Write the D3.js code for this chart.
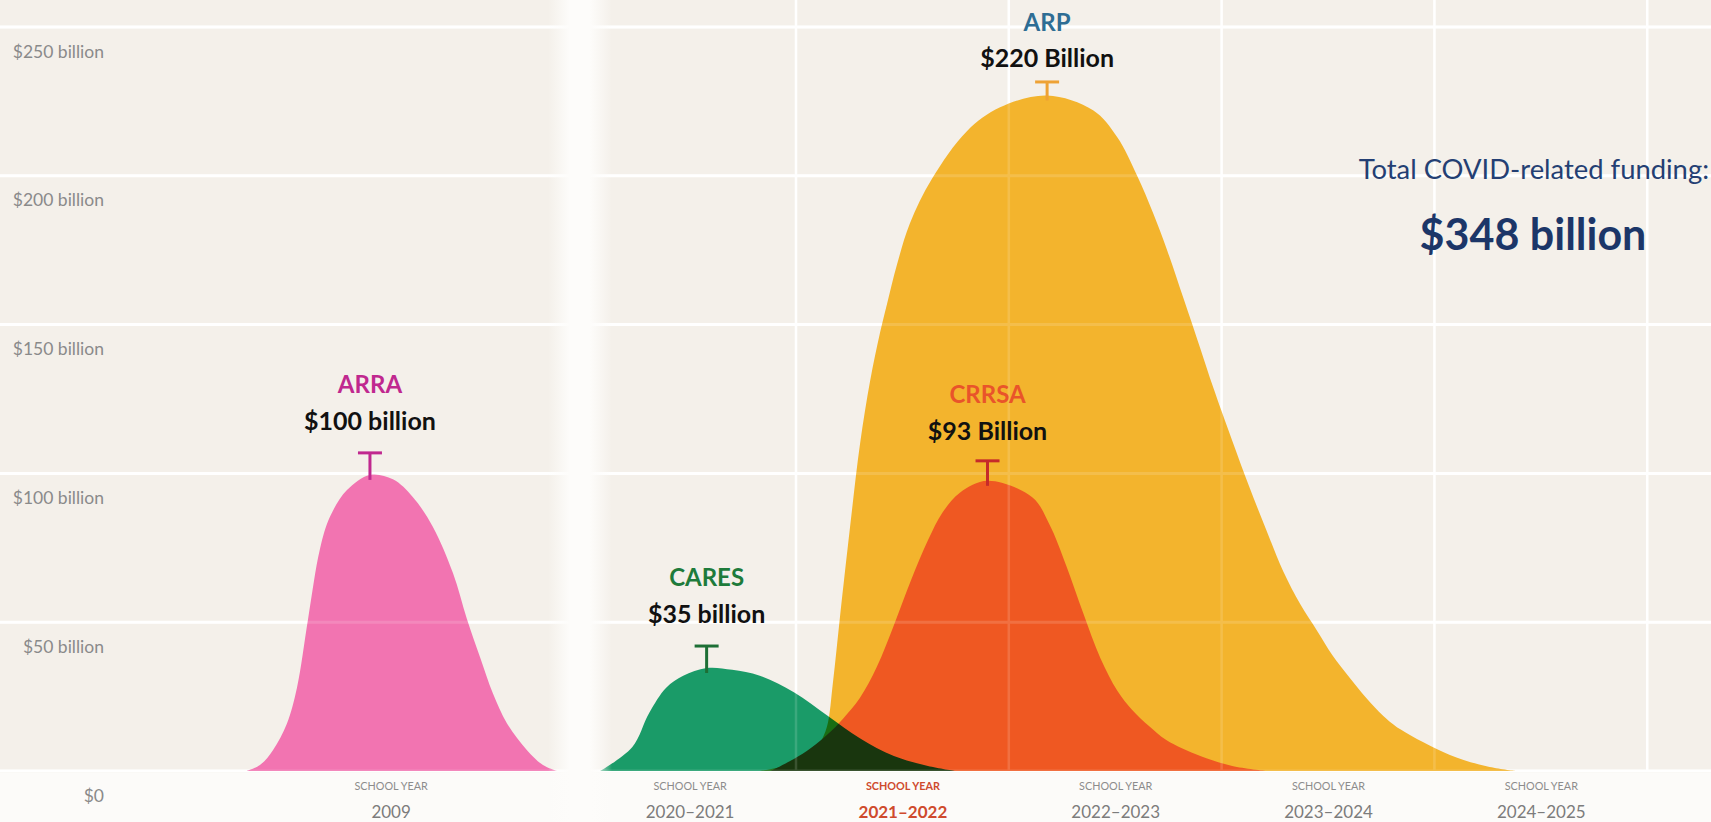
<!DOCTYPE html>
<html>
<head>
<meta charset="utf-8">
<script src="https://cdn.jsdelivr.net/npm/d3@7"></script>
<style>
  html, body { margin: 0; padding: 0; background: #fcfbf9; overflow: hidden; }
  svg { display: block; font-family: Lato, "Open Sans", sans-serif; }
</style>
</head>
<body>
<div id="chart"></div>
<script>
// Values. x = school year as a decimal year, y = billions of dollars
const yTicks = [0, 50, 100, 150, 200, 250];
const yTickLabels = ["$0", "$50 billion", "$100 billion", "$150 billion", "$200 billion", "$250 billion"];

const leftYears = [2009];
const leftYearLabels = ["2009"];
const rightYears = [2021, 2022, 2023, 2024, 2025];
const rightYearLabels = ["2020–2021", "2021–2022", "2022–2023", "2023–2024", "2024–2025"];
const highlightYear = 2022;
const gridYears = [2021.5, 2022.5, 2023.5, 2024.5, 2025.5];

const programs = ["ARRA", "ARP", "CRRSA", "CARES"];
const amountLabels = ["$100 billion", "$220 Billion", "$93 Billion", "$35 billion"];

const arraPoints = [[2008.325, 0], [2008.386, 2], [2008.447, 7], [2008.513, 16], [2008.560, 28], [2008.612, 51],
  [2008.668, 74.6], [2008.715, 85.4], [2008.795, 94.4], [2008.903, 99.5], [2009.011, 98], [2009.105, 92],
  [2009.199, 82], [2009.293, 66.5], [2009.359, 51], [2009.420, 38.3], [2009.481, 26], [2009.547, 16],
  [2009.641, 7], [2009.716, 2], [2009.781, 0]];

const caresPoints = [[2020.58, 0], [2020.73, 8], [2020.81, 19.5], [2020.89, 28], [2020.97, 32], [2021.08, 34.6],
  [2021.20, 34], [2021.33, 32], [2021.49, 26.5], [2021.65, 18.5], [2021.80, 11], [2021.96, 5], [2022.12, 1.7], [2022.25, 0]];

const crrsaPoints = [[2021.38, 0], [2021.49, 4], [2021.57, 7.7], [2021.65, 12.4], [2021.72, 17.5], [2021.80, 24.5],
  [2021.88, 35], [2021.96, 49], [2022.04, 64], [2022.12, 77.5], [2022.19, 87], [2022.27, 93.5], [2022.40, 97.5],
  [2022.61, 92], [2022.69, 83], [2022.77, 69], [2022.85, 53], [2022.93, 38], [2023.01, 27], [2023.08, 20.5],
  [2023.16, 15], [2023.24, 10.4], [2023.40, 5], [2023.55, 1.7], [2023.71, 0]];

const arpPoints = [[2021.33, 0], [2021.47, 2], [2021.57, 5], [2021.61, 9], [2021.646, 15], [2021.674, 30],
  [2021.707, 52], [2021.754, 82], [2021.801, 110], [2021.848, 131], [2021.894, 147], [2021.928, 157],
  [2021.974, 170], [2022.035, 184], [2022.139, 199], [2022.303, 215], [2022.459, 223], [2022.68, 227],
  [2022.896, 222], [2023.009, 213], [2023.103, 200], [2023.178, 187.5], [2023.244, 175], [2023.320, 159],
  [2023.400, 142], [2023.46, 129], [2023.55, 111], [2023.63, 95.5], [2023.71, 81], [2023.79, 67], [2023.87, 56],
  [2023.95, 47], [2024.02, 39], [2024.10, 31.5], [2024.18, 24.5], [2024.26, 18.5], [2024.34, 14], [2024.57, 5.5],
  [2024.75, 1.5], [2024.88, 0]];

const totalLabel = "Total COVID-related funding:";
const totalAmount = "$348 billion";

// styles
const fills = { ARRA: "#f274b1", ARP: "#f3b42d", CRRSA: "#ef5822", CARES: "#1a9b68" };
const nameColors = { ARRA: "#c0288f", ARP: "#2e6d94", CRRSA: "#e9542a", CARES: "#1e7b3b" };
const markColors = { ARRA: "#c0288f", ARP: "#eea235", CRRSA: "#c62a2a", CARES: "#1d6f35" };
const labelLift = { ARRA: 0, ARP: 17, CRRSA: 4, CARES: 0 };

const W = 1711, H = 822;
const baseY = 771;

const svg = d3.select("#chart").append("svg")
    .attr("width", W)
    .attr("height", H);

const y = d3.scaleLinear().domain([0, 250]).range([baseY, 27]);
const unit = 212.8; // px per school year
const xLeft = d3.scaleLinear().domain([2008, 2010]).range([390.6 - unit, 390.6 + unit]);
const xRight = d3.scaleLinear().domain([2021, 2025]).range([689.6, 689.6 + 4 * unit]);

const defs = svg.append("defs");
defs.append("clipPath").attr("id", "plot")
  .append("rect").attr("x", 0).attr("y", 0).attr("width", W).attr("height", baseY);

// background
svg.append("rect").attr("width", W).attr("height", H).attr("fill", "#fcfbf9");
svg.append("rect").attr("width", W).attr("height", baseY + 2).attr("fill", "#f4f0ea");

function drawGrid(g) {
    g.selectAll("line.h")
      .data(yTicks)
      .join("line")
        .attr("class", "h")
        .attr("x1", 0).attr("x2", W)
        .attr("y1", d => y(d)).attr("y2", d => y(d))
        .attr("stroke", "#ffffff").attr("stroke-width", 3);
    g.selectAll("line.v")
      .data(gridYears)
      .join("line")
        .attr("class", "v")
        .attr("x1", d => xRight(d)).attr("x2", d => xRight(d))
        .attr("y1", 0).attr("y2", baseY)
        .attr("stroke", "#ffffff").attr("stroke-width", 2.5);
}
drawGrid(svg.append("g"));

// areas
const series = {
    ARRA: { points: arraPoints, x: xLeft },
    ARP: { points: arpPoints, x: xRight },
    CRRSA: { points: crrsaPoints, x: xRight },
    CARES: { points: caresPoints, x: xRight }
};

const areas = svg.append("g").attr("clip-path", "url(#plot)");
programs.forEach(name => {
    const s = series[name];
    const area = d3.area()
        .x(d => s.x(d[0]))
        .y0(y(0))
        .y1(d => y(d[1]))
        .curve(d3.curveCatmullRom.alpha(0.5));
    const p = areas.append("path")
        .datum(s.points)
        .attr("d", area)
        .attr("fill", fills[name]);
    if (name === "CARES") p.style("mix-blend-mode", "multiply");
});

// faint grid showing through the shapes
drawGrid(svg.append("g").attr("opacity", 0.14));

// white divider between 2009 and the COVID years
const grad = defs.append("linearGradient").attr("id", "gap").attr("x1", 0).attr("x2", 1).attr("y1", 0).attr("y2", 0);
[[0, 0], [0.34, 1], [0.66, 1], [1, 0]].forEach(s => {
    grad.append("stop").attr("offset", s[0]).attr("stop-color", "#fdfcfa").attr("stop-opacity", s[1]);
});
svg.append("rect")
    .attr("x", 548).attr("y", 0)
    .attr("width", 64).attr("height", H)
    .attr("fill", "url(#gap)");

// y axis
const yAxis = svg.append("g")
    .attr("transform", "translate(104,0)")
    .call(d3.axisLeft(y).tickValues(yTicks).tickFormat((d, i) => yTickLabels[i]).tickSize(0).tickPadding(0));
yAxis.select(".domain").remove();
yAxis.selectAll("text")
    .attr("y", 24)
    .attr("dy", "0.35em")
    .attr("font-family", "Lato, sans-serif")
    .attr("font-size", 17.5)
    .attr("fill", "#8a8a8a");

// x axes
function drawXAxis(scale, ticks, labels) {
    const g = svg.append("g")
        .attr("transform", `translate(0,${baseY})`)
        .call(d3.axisBottom(scale).tickValues(ticks).tickFormat((d, i) => labels[i]).tickSize(0).tickPadding(0));
    g.select(".domain").remove();
    g.selectAll(".tick text")
        .attr("y", 41)
        .attr("dy", "0.35em")
        .attr("font-family", "Lato, sans-serif")
        .attr("font-size", 17)
        .attr("font-weight", d => d === highlightYear ? 700 : 400)
        .attr("fill", d => d === highlightYear ? "#cf4a2d" : "#7c7c7c");
    g.selectAll(".tick").append("text")
        .attr("y", 15)
        .attr("dy", "0.35em")
        .attr("text-anchor", "middle")
        .attr("font-family", "Lato, sans-serif")
        .attr("font-size", 10.8)
        .attr("font-weight", d => d === highlightYear ? 700 : 400)
        .attr("fill", d => d === highlightYear ? "#cf4a2d" : "#8c8c8c")
        .text("SCHOOL YEAR");
}
drawXAxis(xLeft, leftYears, leftYearLabels);
drawXAxis(xRight, rightYears, rightYearLabels);

// peak labels and T markers
programs.forEach((name, i) => {
    const s = series[name];
    const peak = s.points.reduce((a, b) => (b[1] > a[1] ? b : a));
    const px = s.x(peak[0]);
    const py = y(peak[1]);
    const lift = labelLift[name];
    const g = svg.append("g");
    g.append("line")
        .attr("x1", px - 12).attr("x2", px + 12)
        .attr("y1", py - 22 + lift / 2).attr("y2", py - 22 + lift / 2)
        .attr("stroke", markColors[name]).attr("stroke-width", 3);
    g.append("line")
        .attr("x1", px).attr("x2", px)
        .attr("y1", py - 22 + lift / 2).attr("y2", py + 5)
        .attr("stroke", markColors[name]).attr("stroke-width", 3);
    g.append("text")
        .attr("x", px).attr("y", py - 90 + lift)
        .attr("dy", "0.35em")
        .attr("text-anchor", "middle")
        .attr("font-size", 24).attr("font-weight", 700)
        .attr("fill", nameColors[name])
        .text(name);
    g.append("text")
        .attr("x", px).attr("y", py - 54 + lift)
        .attr("dy", "0.35em")
        .attr("text-anchor", "middle")
        .attr("font-size", 25).attr("font-weight", 700)
        .attr("fill", "#111111")
        .text(amountLabels[i]);
});

// total
svg.append("text")
    .attr("x", 1709).attr("y", 169)
    .attr("dy", "0.35em")
    .attr("text-anchor", "end")
    .attr("font-size", 27.4)
    .attr("fill", "#243f73")
    .text(totalLabel);
svg.append("text")
    .attr("x", 1533).attr("y", 235)
    .attr("dy", "0.35em")
    .attr("text-anchor", "middle")
    .attr("font-size", 43).attr("font-weight", 700)
    .attr("fill", "#1c3668")
    .text(totalAmount);
</script>
</body>
</html>
